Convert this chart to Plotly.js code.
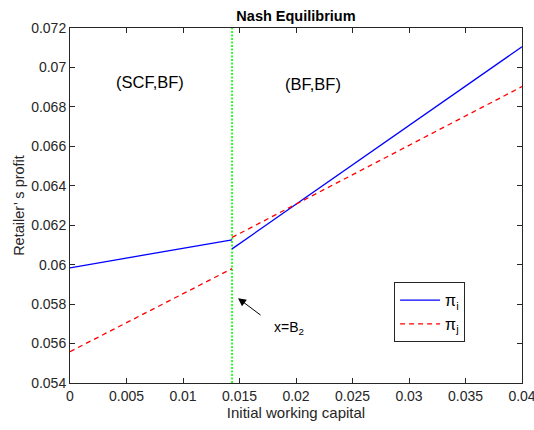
<!DOCTYPE html>
<html><head><meta charset="utf-8">
<script src="https://cdn.plot.ly/plotly-3.0.1.min.js"></script>
<style>body{margin:0;padding:0;background:#fff}#chart{width:534px;height:430px}</style>
</head><body><div id="chart"></div>
<script>
// Threshold B2
const B2 = 0.01434;
// Retailer i profit (pi_i): segment before and after B2
const piI_x = [0, B2, null, B2, 0.04];
const piI_y = [0.05984, 0.06126, null, 0.0608, 0.07105];
// Retailer j profit (pi_j)
const piJ_x = [0, B2, null, B2, 0.04];
const piJ_y = [0.05559, 0.0598, null, 0.06138, 0.06903];
// Axis ranges and ticks
const xRange = [0, 0.04];
const yRange = [0.054, 0.072];
const xTicks = [0, 0.005, 0.01, 0.015, 0.02, 0.025, 0.03, 0.035, 0.04];
const xTickText = ['0','0.005','0.01','0.015','0.02','0.025','0.03','0.035','0.04'];
const yTicks = [0.054, 0.056, 0.058, 0.06, 0.062, 0.064, 0.066, 0.068, 0.07, 0.072];
const yTickText = ['0.054','0.056','0.058','0.06','0.062','0.064','0.066','0.068','0.07','0.072'];
// Region labels
const regionLabels = ['(SCF,BF)', '(BF,BF)'];
const regionX = [0.00708, 0.0215];
const regionY = [0.06926, 0.06916];
// Arrow to B2
const arrowHead = [0.01487, 0.0583];
const arrowLabel = 'x=B<sub>2</sub>';
const arrowLabelPos = [0.0194, 0.0568];

const font = 'Arial, "Liberation Sans", Helvetica, sans-serif';
const ink = '#262626';
const traces = [
  {x: [B2, B2], y: yRange, mode: 'lines', line: {color: '#00ff00', width: 1.6, dash: '2px,1.5px'}, showlegend: false, hoverinfo: 'skip'},
  {x: piI_x, y: piI_y, mode: 'lines', name: 'π<sub>i</sub>', line: {color: '#0000ff', width: 1.3}, connectgaps: false},
  {x: piJ_x, y: piJ_y, mode: 'lines', name: 'π<sub>j</sub>', line: {color: '#ff0000', width: 1.3, dash: '5px,4px'}, connectgaps: false}
];
const axisCommon = {showline: true, linecolor: ink, linewidth: 1, mirror: 'ticks', ticks: 'inside', ticklen: 5, tickcolor: ink, showgrid: false, zeroline: false, ticklabeloverflow: 'allow', tickfont: {family: font, size: 14, color: ink}};
const layout = {
  width: 534, height: 430,
  margin: {l: 70, r: 12, t: 28, b: 47},
  paper_bgcolor: '#fff', plot_bgcolor: '#fff',
  title: {text: '<b>Nash Equilibrium</b>', font: {family: font, size: 14.5, color: '#000'}, x: 0.5543, xanchor: 'center', y: 0.962, yanchor: 'middle'},
  xaxis: Object.assign({}, axisCommon, {range: xRange, tickvals: xTicks, ticktext: xTickText, title: {text: 'Initial working capital', font: {family: font, size: 15, color: ink}, standoff: 3}}),
  yaxis: Object.assign({}, axisCommon, {range: yRange, tickvals: yTicks, ticktext: yTickText, title: {text: 'Retailer’ s profit', font: {family: font, size: 14.5, color: ink}, standoff: 3}}),
  legend: {x: 0.717, y: 0.284, xanchor: 'left', yanchor: 'top', bgcolor: '#fff', bordercolor: ink, borderwidth: 1, font: {family: font, size: 16, color: '#000'}, itemwidth: 40, tracegroupgap: 4},
  annotations: [
    {x: regionX[0], y: regionY[0], text: regionLabels[0], showarrow: false, font: {family: font, size: 16.5, color: '#000'}},
    {x: regionX[1], y: regionY[1], text: regionLabels[1], showarrow: false, font: {family: font, size: 16.5, color: '#000'}},
    {x: arrowHead[0], y: arrowHead[1], ax: 24, ay: 18, text: '', showarrow: true, arrowhead: 2, arrowsize: 1.6, arrowwidth: 1, arrowcolor: '#000'},
    {x: arrowLabelPos[0], y: arrowLabelPos[1], text: arrowLabel, showarrow: false, font: {family: font, size: 14, color: '#000'}}
  ],
  showlegend: true
};
Plotly.newPlot('chart', traces, layout, {displayModeBar: false, staticPlot: true});
</script></body></html>
